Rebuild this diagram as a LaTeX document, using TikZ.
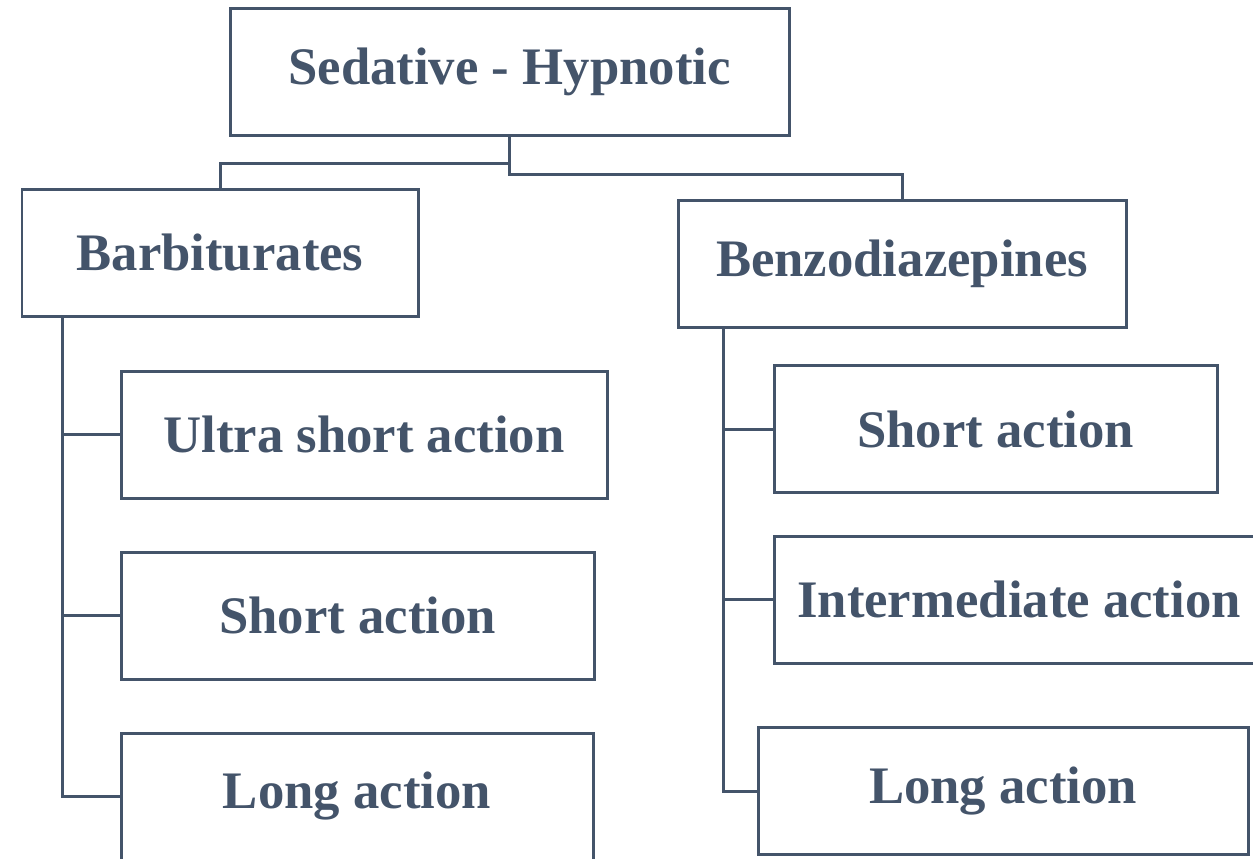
\documentclass[tikz,border=0pt]{standalone}
\usepackage{fontspec}
\setmainfont{Liberation Serif}
\usetikzlibrary{positioning}
\definecolor{slate}{HTML}{44546A}

\begin{document}
\begin{tikzpicture}[
  box/.style={draw=slate, line width=0.06cm, minimum height=2.54cm, inner sep=0pt,
    text=slate, font=\fontsize{30}{36}\selectfont\bfseries},
  link/.style={draw=slate, line width=0.06cm}]
\useasboundingbox (0,0) rectangle (25.06,-17.16);

\node[box, minimum width=11.18cm] (sh) at (10.19,-1.43) {Sedative - Hypnotic};
\node[box, minimum width=7.92cm] (barb) at (4.40,-5.06) {Barbiturates};
\node[box, minimum width=8.96cm] (benz) at (18.04,-5.27) {Benzodiazepines};

\node[box, minimum width=9.72cm] (bu) at (7.28,-8.69) {Ultra short action};
\node[box, minimum width=9.46cm] (bs) at (7.15,-12.31) {Short action};
\node[box, minimum width=9.44cm] (bl) at (7.14,-15.93) {Long action};

\node[box, minimum width=8.86cm] (zs) at (19.91,-8.58) {Short action};
\node[box, minimum width=9.80cm] (zi) at (20.38,-11.99) {Intermediate action};
\node[box, minimum width=9.80cm] (zl) at (20.06,-15.82) {Long action};

\draw[link] (sh.south) -- ++(0,-0.54) -| (barb.north);
\draw[link] (sh.south) -- ++(0,-0.76) -| (benz.north);

\coordinate (bx) at ([xshift=0.84cm]barb.south west);
\draw[link] (bx) |- (bu.west);
\draw[link] (bx) |- (bs.west);
\draw[link] (bx) |- (bl.west);

\coordinate (zx) at ([xshift=0.94cm]benz.south west);
\draw[link] (zx) |- (zs.west);
\draw[link] (zx) |- (zi.west);
\draw[link] (zx) |- (zl.west);

\end{tikzpicture}
\end{document}
